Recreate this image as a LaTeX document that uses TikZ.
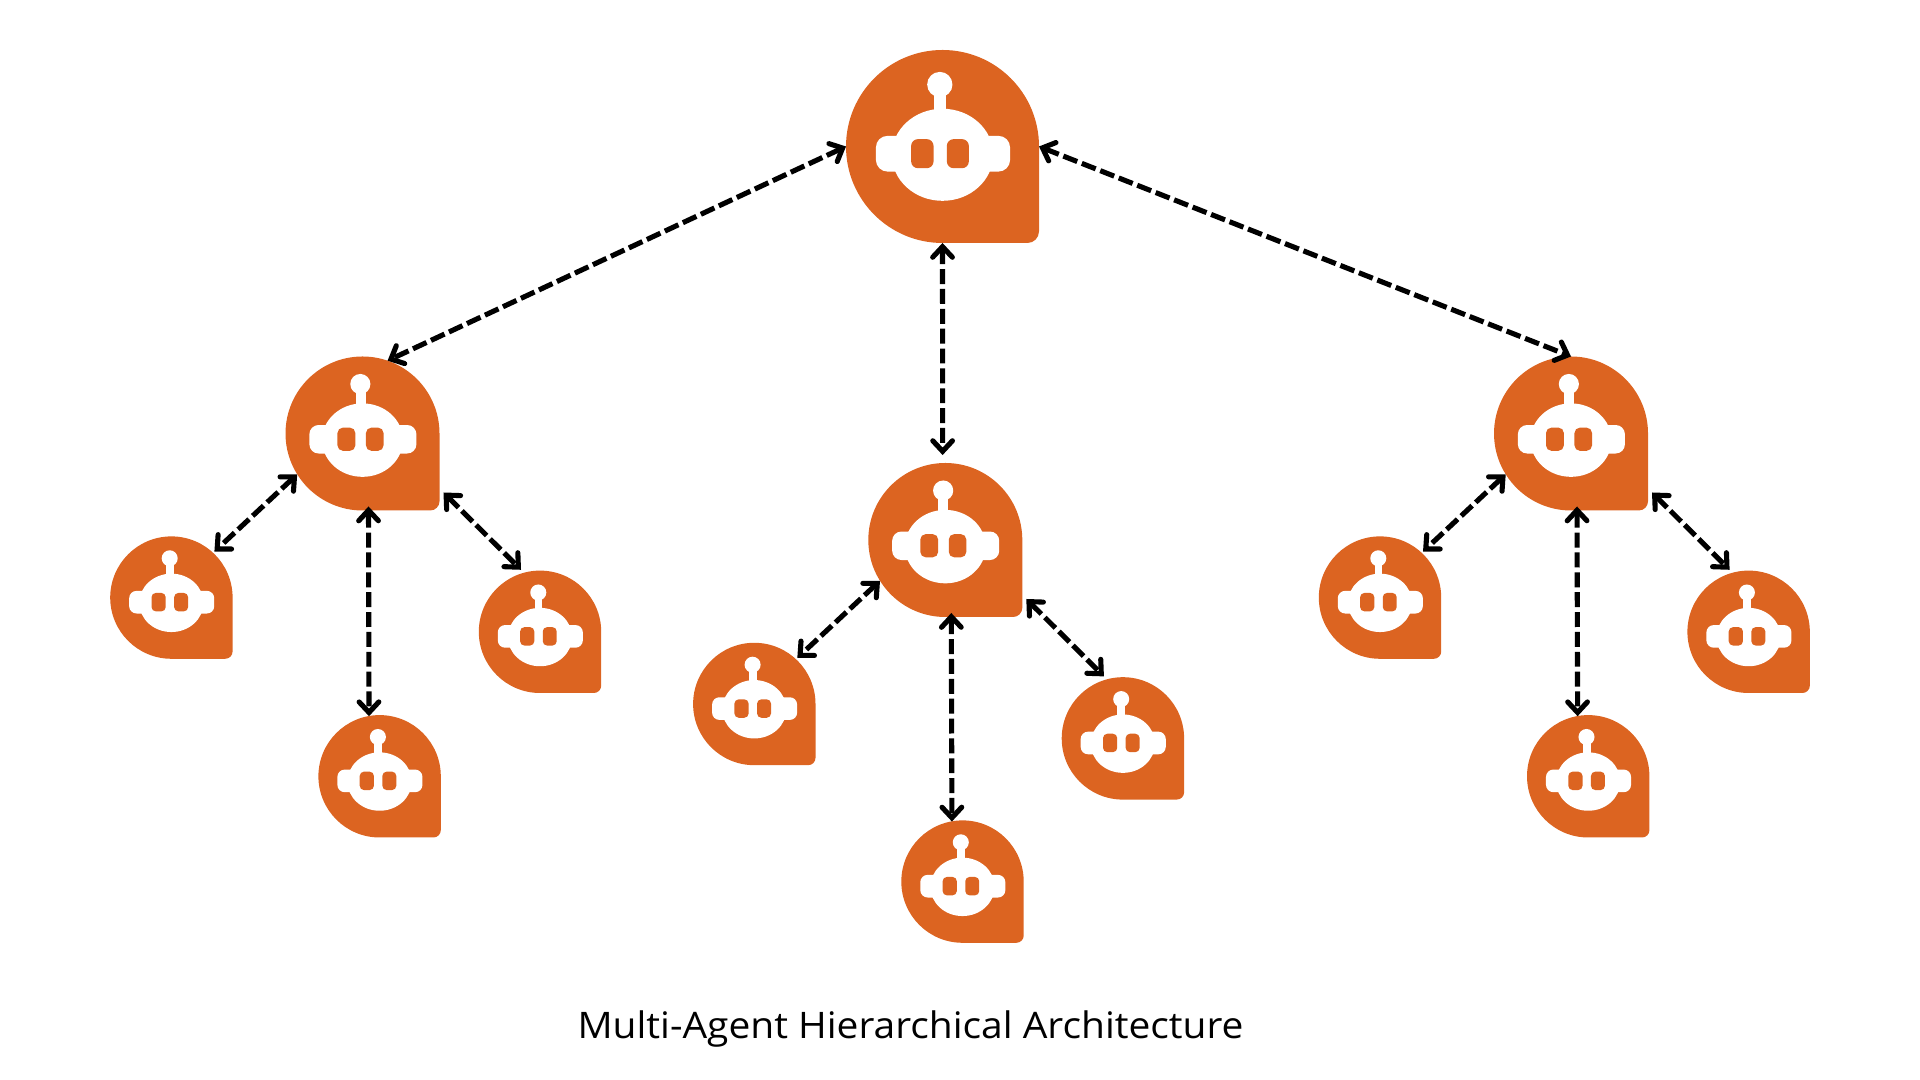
\documentclass[tikz,border=0pt]{standalone}
\usepackage{fontspec}
\setmainfont[FakeStretch=1.065]{Open Sans}
\usetikzlibrary{arrows.meta}
\definecolor{agentorange}{HTML}{DC6421}
\tikzset{
  agentbig/.style={circle,inner sep=0,outer sep=0,minimum size=1.93cm},
  agentmid/.style={circle,inner sep=0,outer sep=0,minimum size=1.54cm},
  agentsmall/.style={circle,inner sep=0,outer sep=0,minimum size=1.22cm},
  link/.style={draw=black,line width=1.45pt,dash pattern=on 4.25pt off 1.4pt,{Straight Barb[length=3pt,width=5.6pt,line cap=round]}-{Straight Barb[length=3pt,width=5.6pt,line cap=round]}},
  pics/agent/.style={code={
    \begin{scope}[scale=#1]
    \fill[agentorange] (1,0) arc[start angle=0,end angle=270,radius=1] -- (0.88,-1) arc[start angle=270,end angle=360,radius=0.12] -- cycle;
    \fill[white] (0,-0.086) ellipse[x radius=0.525,y radius=0.477];
    \fill[white,rounded corners=#1*0.12cm] (-0.69,-0.26) rectangle (0.70,0.11);
    \fill[white] (-0.09,0.1) rectangle (0.04,0.64);
    \fill[white] (-0.028,0.642) circle[radius=0.131];
    \fill[agentorange,rounded corners=#1*0.07cm] (-0.325,-0.225) rectangle (-0.093,0.076);
    \fill[agentorange,rounded corners=#1*0.07cm] (0.045,-0.225) rectangle (0.273,0.076);
    \end{scope}
  }}
}
\begin{document}
\begin{tikzpicture}[font=\fontsize{10.4}{12}\selectfont]
\useasboundingbox (0,0) rectangle (19.2,10.8);
\node[agentbig] (root) at (9.425,9.335) {};
\node[agentmid] (midL) at (3.625,6.465) {};
\node[agentmid] (midC) at (9.453,5.40) {};
\node[agentmid] (midR) at (15.71,6.465) {};
\node[agentsmall] (leafLa) at (1.714,4.824) {};
\node[agentsmall] (leafLb) at (5.40,4.482) {};
\node[agentsmall] (leafLc) at (3.796,3.037) {};
\node[agentsmall] (leafCa) at (7.543,3.76) {};
\node[agentsmall] (leafCb) at (11.229,3.416) {};
\node[agentsmall] (leafCc) at (9.625,1.984) {};
\node[agentsmall] (leafRa) at (13.80,4.824) {};
\node[agentsmall] (leafRb) at (17.486,4.482) {};
\node[agentsmall] (leafRc) at (15.882,3.037) {};
\pic at (root) {agent=0.965};
\pic at (midL) {agent=0.77};
\pic at (midC) {agent=0.77};
\pic at (midR) {agent=0.77};
\pic at (leafLa) {agent=0.612};
\pic at (leafLb) {agent=0.612};
\pic at (leafLc) {agent=0.612};
\pic at (leafCa) {agent=0.612};
\pic at (leafCb) {agent=0.612};
\pic at (leafCc) {agent=0.612};
\pic at (leafRa) {agent=0.612};
\pic at (leafRb) {agent=0.612};
\pic at (leafRc) {agent=0.612};
\draw[link] (root.180) -- (midL.71);
\draw[link] (root.270) -- ([yshift=0.08cm]midC.92);
\draw[link] (root.0) -- (midR.90);
\draw[link] (midL.212) -- ([shift={(0.43,0.46)}]leafLa.center);
\draw[link] ([shift={(0.81,-0.59)}]midL.center) -- ([shift={(-0.19,0.62)}]leafLb.center);
\draw[link] ([shift={(0.06,-0.73)}]midL.center) -- (leafLc.100);
\draw[link] (midC.212) -- ([shift={(0.43,0.46)}]leafCa.center);
\draw[link] ([shift={(0.81,-0.59)}]midC.center) -- ([shift={(-0.19,0.62)}]leafCb.center);
\draw[link] ([shift={(0.06,-0.73)}]midC.center) -- (leafCc.100);
\draw[link] (midR.212) -- ([shift={(0.43,0.46)}]leafRa.center);
\draw[link] ([shift={(0.81,-0.59)}]midR.center) -- ([shift={(-0.19,0.62)}]leafRb.center);
\draw[link] ([shift={(0.06,-0.73)}]midR.center) -- (leafRc.100);
\node[anchor=base] (caption) at (9.105,0.41) {Multi-Agent Hierarchical Architecture};
\end{tikzpicture}
\end{document}
